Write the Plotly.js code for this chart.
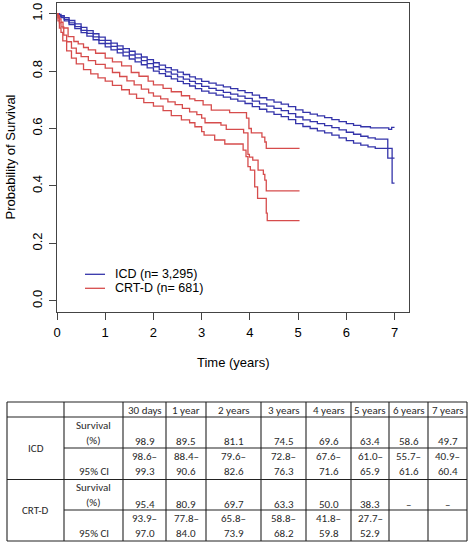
<!DOCTYPE html>
<html><head><meta charset="utf-8">
<script src="https://cdn.plot.ly/plotly-3.0.1.min.js"></script>
<style>html,body{margin:0;padding:0;background:#fff;}#chart{width:472px;height:543px;}</style>
</head><body><div id="chart"></div>
<script>
// ---------- Kaplan-Meier curves ----------
const icdTime = [0,0.04,0.083,0.15,0.25,0.37,0.5,0.62,0.75,0.87,1.0,1.12,1.25,1.37,1.5,1.62,1.75,1.87,2.0,2.12,2.25,2.37,2.5,2.62,2.75,2.87,3.0,3.15,3.3,3.45,3.6,3.75,3.9,4.05,4.2,4.35,4.5,4.65,4.8,4.95,5.1,5.25,5.4,5.55,5.7,5.85,6.0,6.15,6.3,6.45,6.6,6.86,7.0];
const icdEst  = [1.000,0.994,0.989,0.980,0.968,0.955,0.942,0.931,0.919,0.907,0.896,0.886,0.876,0.866,0.856,0.846,0.836,0.826,0.815,0.806,0.797,0.789,0.780,0.772,0.764,0.756,0.747,0.740,0.733,0.726,0.720,0.713,0.705,0.695,0.686,0.678,0.670,0.662,0.652,0.640,0.630,0.624,0.617,0.610,0.603,0.595,0.587,0.580,0.573,0.567,0.563,0.497,0.497];
const icdUpperTime = [0,0.04,0.083,0.15,0.25,0.37,0.5,0.62,0.75,0.87,1.0,1.12,1.25,1.37,1.5,1.62,1.75,1.87,2.0,2.12,2.25,2.37,2.5,2.62,2.75,2.87,3.0,3.15,3.3,3.45,3.6,3.75,3.9,4.05,4.2,4.35,4.5,4.65,4.8,4.95,5.1,5.25,5.4,5.55,5.7,5.85,6.0,6.15,6.3,6.5,6.88,6.94,7.0];
const icdUpper = [1.000,0.997,0.993,0.986,0.976,0.964,0.952,0.941,0.930,0.918,0.907,0.897,0.888,0.878,0.869,0.859,0.849,0.840,0.829,0.821,0.812,0.804,0.796,0.788,0.780,0.773,0.764,0.758,0.751,0.745,0.739,0.732,0.725,0.716,0.707,0.700,0.692,0.685,0.676,0.665,0.656,0.650,0.644,0.638,0.631,0.624,0.617,0.611,0.606,0.602,0.597,0.604,0.604];
const icdLowerTime = [0,0.04,0.083,0.15,0.25,0.37,0.5,0.62,0.75,0.87,1.0,1.12,1.25,1.37,1.5,1.62,1.75,1.87,2.0,2.12,2.25,2.37,2.5,2.62,2.75,2.87,3.0,3.15,3.3,3.45,3.6,3.75,3.9,4.05,4.2,4.35,4.5,4.65,4.8,4.95,5.1,5.25,5.4,5.55,5.7,5.85,6.0,6.15,6.3,6.45,6.6,6.95,7.0];
const icdLower = [1.000,0.991,0.986,0.975,0.962,0.948,0.934,0.922,0.909,0.896,0.884,0.874,0.863,0.853,0.842,0.832,0.822,0.811,0.800,0.791,0.782,0.773,0.764,0.756,0.748,0.739,0.730,0.723,0.716,0.709,0.702,0.695,0.687,0.676,0.667,0.658,0.649,0.641,0.631,0.617,0.607,0.600,0.592,0.585,0.577,0.567,0.558,0.549,0.542,0.536,0.531,0.410,0.410];

const crtTime = [0,0.02,0.05,0.083,0.14,0.2,0.3,0.4,0.5,0.65,0.8,1.0,1.15,1.3,1.45,1.6,1.75,1.9,2.0,2.15,2.3,2.45,2.6,2.75,2.9,3.0,3.07,3.4,3.51,3.87,3.96,3.99,4.06,4.17,4.28,4.31,4.34,5.03];
const crtEst  = [1.000,0.985,0.968,0.954,0.925,0.902,0.880,0.862,0.850,0.836,0.823,0.810,0.795,0.781,0.766,0.752,0.737,0.724,0.713,0.703,0.693,0.683,0.670,0.658,0.648,0.636,0.620,0.612,0.597,0.585,0.510,0.500,0.490,0.455,0.440,0.420,0.383,0.383];
const crtUpperTime = [0,0.02,0.05,0.083,0.125,0.23,0.35,0.44,0.55,0.65,0.8,1.0,1.15,1.34,1.54,1.7,1.89,2.0,2.2,2.37,2.58,2.75,2.86,3.03,3.2,3.58,3.93,3.98,4.03,4.25,4.31,4.34,5.03];
const crtUpper = [1.000,0.993,0.982,0.970,0.950,0.920,0.903,0.895,0.882,0.874,0.862,0.845,0.832,0.818,0.795,0.782,0.765,0.752,0.740,0.728,0.714,0.703,0.697,0.682,0.664,0.655,0.636,0.600,0.585,0.570,0.553,0.531,0.531];
const crtLowerTime = [0,0.02,0.05,0.083,0.12,0.2,0.3,0.4,0.55,0.7,0.85,1.0,1.15,1.34,1.5,1.65,1.8,2.0,2.2,2.37,2.58,2.75,2.86,3.0,3.05,3.27,3.48,3.86,3.92,3.96,4.01,4.1,4.16,4.34,4.36,5.03];
const crtLower = [1.000,0.975,0.950,0.935,0.905,0.870,0.845,0.825,0.805,0.790,0.776,0.765,0.750,0.735,0.720,0.705,0.690,0.678,0.662,0.645,0.630,0.620,0.606,0.589,0.577,0.560,0.546,0.525,0.502,0.467,0.455,0.397,0.357,0.305,0.279,0.279];

const legendLabels = ["ICD (n= 3,295)", "CRT-D (n= 681)"];
const xTicks = [0,1,2,3,4,5,6,7];
const yTicks = [0,0.2,0.4,0.6,0.8,1.0];

// ---------- Table ----------
const tableCols = ["30 days","1 year","2 years","3 years","4 years","5 years","6 years","7 years"];
const groupNames = ["ICD","CRT-D"];
const rowLabels = [["Survival","(%)"],["","95% CI"]];
const icdTabSurv = [98.9,89.5,81.1,74.5,69.6,63.4,58.6,49.7];
const icdTabLow  = [98.6,88.4,79.6,72.8,67.6,61.0,55.7,40.9];
const icdTabHigh = [99.3,90.6,82.6,76.3,71.6,65.9,61.6,60.4];
const crtTabSurv = [95.4,80.9,69.7,63.3,50.0,38.3,null,null];
const crtTabLow  = [93.9,77.8,65.8,58.8,41.8,27.7,null,null];
const crtTabHigh = [97.0,84.0,73.9,68.2,59.8,52.9,null,null];

// ---------- styles / layout constants ----------
const W = 472, H = 543;
const M = {l:57, r:63, t:3, b:231};
const PW = W - M.l - M.r, PH = H - M.t - M.b;
const X = px => (px - M.l) / PW;
const Y = py => (H - M.b - py) / PH;
const BLUE = '#3434aa', RED = '#d64c4c';
const plotFont = 'Arial, Liberation Sans, sans-serif';
const tabFont = 'Carlito, Calibri, Lato, sans-serif';

function km(x, y, color) {
  return {x: x, y: y, type: 'scatter', mode: 'lines', line: {shape: 'hv', color: color, width: 1.3}, showlegend: false, hoverinfo: 'skip'};
}
const traces = [
  km(icdTime, icdEst, BLUE), km(icdUpperTime, icdUpper, BLUE), km(icdLowerTime, icdLower, BLUE),
  km(crtTime, crtEst, RED), km(crtUpperTime, crtUpper, RED), km(crtLowerTime, crtLower, RED)
];

const shapes = [];
const annotations = [];

// axis titles
annotations.push({xref:'paper', yref:'paper', x:X(10), y:Y(157.5), text:'Probability of Survival', textangle:-90, showarrow:false, xanchor:'center', yanchor:'middle', font:{family:plotFont, size:13, color:'#000'}});
annotations.push({xref:'paper', yref:'paper', x:X(233), y:Y(362), text:'Time (years)', showarrow:false, xanchor:'center', yanchor:'middle', font:{family:plotFont, size:13, color:'#000'}});

// legend
const legColors = [BLUE, RED];
const legY = [274.3, 288.3];
legendLabels.forEach((lab, i) => {
  shapes.push({type:'line', xref:'paper', yref:'paper', x0:X(85), x1:X(105), y0:Y(legY[i]), y1:Y(legY[i]), line:{color:legColors[i], width:1.3}});
  annotations.push({xref:'paper', yref:'paper', x:X(113), y:Y(legY[i]), text:lab, showarrow:false, xanchor:'left', yanchor:'middle', font:{family:plotFont, size:12.5, color:'#000'}});
});

// table grid
const colEdges = [7,64,123,166,206,261,306,351,389,428,467];
const rowEdges = [402,417,448,479.5,510,541];
const gridLine = {color:'#222', width:1.1};
function hline(py, x0, x1) { shapes.push({type:'line', xref:'paper', yref:'paper', x0:X(x0), x1:X(x1), y0:Y(py), y1:Y(py), line:gridLine}); }
function vline(px, y0, y1) { shapes.push({type:'line', xref:'paper', yref:'paper', x0:X(px), x1:X(px), y0:Y(y0), y1:Y(y1), line:gridLine}); }
hline(rowEdges[0], colEdges[0], colEdges[10]);
hline(rowEdges[1], colEdges[0], colEdges[10]);
hline(rowEdges[2], colEdges[1], colEdges[10]);
hline(rowEdges[3], colEdges[0], colEdges[10]);
hline(rowEdges[4], colEdges[1], colEdges[10]);
hline(rowEdges[5], colEdges[0], colEdges[10]);
colEdges.forEach(c => vline(c, rowEdges[0], rowEdges[5]));

function cellText(txt, cx, cy) {
  annotations.push({xref:'paper', yref:'paper', x:X(cx), y:Y(cy), text:txt, showarrow:false, xanchor:'center', yanchor:'middle', font:{family:tabFont, size:11, color:'#2a2a2a'}});
}
const colCenter = i => (colEdges[i] + colEdges[i+1]) / 2;
// header
tableCols.forEach((c, i) => cellText(c, colCenter(i + 2), 410));
// groups
const groups = [
  {surv: icdTabSurv, low: icdTabLow, high: icdTabHigh},
  {surv: crtTabSurv, low: crtTabLow, high: crtTabHigh}
];
groups.forEach((g, gi) => {
  const top1 = rowEdges[1 + gi * 2], top2 = rowEdges[2 + gi * 2], bot = rowEdges[3 + gi * 2];
  cellText(groupNames[gi], colCenter(0), (top1 + bot) / 2);
  cellText(rowLabels[0][0], colCenter(1), top1 + 8.5);
  cellText(rowLabels[0][1], colCenter(1), top1 + 23.5);
  cellText(rowLabels[1][1], colCenter(1), top2 + 23);
  tableCols.forEach((c, i) => {
    const cx = colCenter(i + 2);
    const s = g.surv[i];
    cellText(s === null ? '–' : s.toFixed(1), cx, top1 + 24.5);
    if (g.low[i] !== null) {
      cellText(g.low[i].toFixed(1) + '–', cx, top2 + 8.5);
      cellText(g.high[i].toFixed(1), cx, top2 + 23);
    }
  });
});

const layout = {
  width: W, height: H,
  margin: M,
  paper_bgcolor: '#fff', plot_bgcolor: '#fff',
  showlegend: false,
  xaxis: {range:[0,7.3], tickvals:xTicks, ticktext:xTicks.map(String), ticks:'outside', ticklen:7, tickwidth:1, tickcolor:'#444',
          showline:true, linecolor:'#444', linewidth:1, mirror:true, showgrid:false, zeroline:false,
          tickfont:{family:plotFont, size:13, color:'#000'}, ticklabelstandoff:1, fixedrange:true},
  yaxis: {range:[-0.039,1.037], tickvals:yTicks, ticktext:yTicks.map(v => v.toFixed(1)), ticks:'outside', ticklen:7, tickwidth:1, tickcolor:'#444',
          showline:true, linecolor:'#444', linewidth:1, mirror:true, showgrid:false, zeroline:false, tickangle:-90,
          tickfont:{family:plotFont, size:13, color:'#000'}, ticklabelstandoff:2, fixedrange:true},
  shapes: shapes,
  annotations: annotations
};
Plotly.newPlot('chart', traces, layout, {displayModeBar:false, staticPlot:true});
</script></body></html>
